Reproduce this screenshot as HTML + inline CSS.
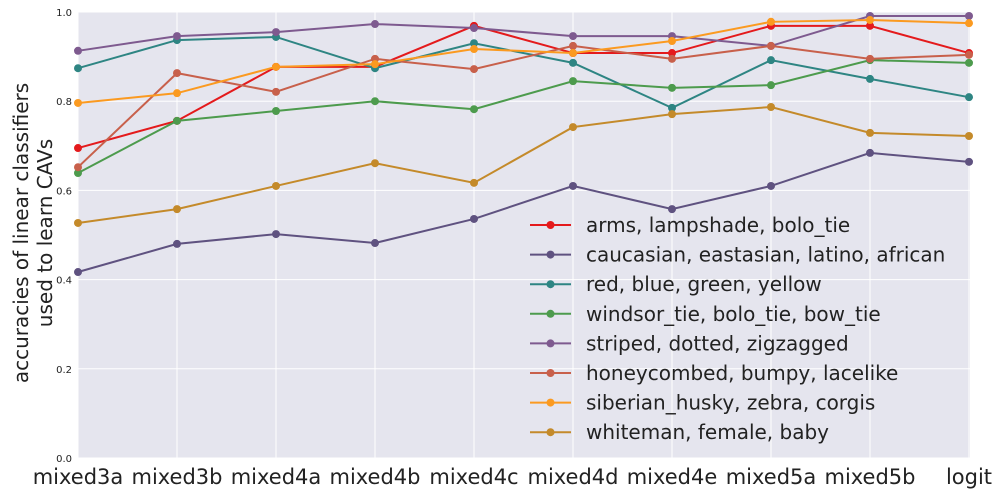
<!DOCTYPE html>
<html><head><meta charset="utf-8"><style>
body{margin:0;background:#fff;}
svg{display:block;font-family:"DejaVu Sans","Liberation Sans",sans-serif;}
</style></head><body>
<svg id="chart" width="999" height="492"></svg>
<script>
const categories=["mixed3a","mixed3b","mixed4a","mixed4b","mixed4c","mixed4d","mixed4e","mixed5a","mixed5b","logit"];
const yTicks=[0.0,0.2,0.4,0.6,0.8,1.0];
const seriesNames=["arms, lampshade, bolo_tie","caucasian, eastasian, latino, african","red, blue, green, yellow","windsor_tie, bolo_tie, bow_tie","striped, dotted, zigzagged","honeycombed, bumpy, lacelike","siberian_husky, zebra, corgis","whiteman, female, baby"];
const seriesColors=["#e41a1c","#5f5280","#2e8583","#4d9b4d","#7e5a8f","#c8604b","#fb9a20","#c48a2a"];
const sArms=[0.695,0.756,0.877,0.877,0.969,0.908,0.908,0.969,0.969,0.908];
const sRace=[0.417,0.480,0.502,0.482,0.536,0.610,0.558,0.610,0.684,0.664];
const sColor=[0.874,0.937,0.944,0.874,0.930,0.886,0.785,0.892,0.850,0.809];
const sTie=[0.639,0.756,0.778,0.800,0.782,0.845,0.830,0.836,0.892,0.886];
const sStripe=[0.913,0.946,0.955,0.973,0.964,0.946,0.946,0.924,0.991,0.991];
const sHoney=[0.652,0.863,0.821,0.895,0.872,0.924,0.895,0.924,0.895,0.904];
const sHusky=[0.796,0.818,0.877,0.883,0.917,0.908,0.935,0.978,0.982,0.975];
const sWhite=[0.527,0.558,0.610,0.661,0.617,0.742,0.771,0.787,0.729,0.722];
const allSeries=[sArms,sRace,sColor,sTie,sStripe,sHoney,sHusky,sWhite];

const NS="http://www.w3.org/2000/svg";
const svg=document.getElementById("chart");
const L=78,R=970,T=12,B=458;
const xs=i=>L+i*(R-L-1)/(categories.length-1);
const ys=v=>B-v*(B-T);
function mk(tag,attrs,parent){const e=document.createElementNS(NS,tag);for(const k in attrs)e.setAttribute(k,attrs[k]);(parent||svg).appendChild(e);return e;}

const bg=mk("rect",{x:L,y:T,width:R-L,height:B-T,fill:"#e5e5ee"});


yTicks.forEach(t=>{
  const g=mk("line",{x1:L,x2:R,y1:ys(t),y2:ys(t),stroke:"#fff","stroke-width":1});
  
  
  const tx=mk("text",{x:L-6,y:ys(t)+4,"text-anchor":"end","font-size":10,fill:"#222"});
  tx.textContent=t.toFixed(1);
  
  
});
categories.forEach((c,i)=>{
  const g=mk("line",{x1:xs(i),x2:xs(i),y1:T,y2:B,stroke:"#fff","stroke-width":1});
  
  
  const tx=mk("text",{x:xs(i),y:484,"text-anchor":"middle","font-size":21,fill:"#222"});
  tx.textContent=c;
  
  
});
const yt=mk("text",{transform:"translate(28,233) rotate(-90)","text-anchor":"middle","font-size":20,fill:"#222"});


const t1=mk("tspan",{x:0,dy:0},yt);t1.textContent="accuracies of linear classifiers";
const t2=mk("tspan",{x:0,dy:24},yt);t2.textContent="used to learn CAVs";

allSeries.forEach((s,k)=>{
  const pts=s.map((v,i)=>xs(i)+","+ys(v)).join(" ");
  const pl=mk("polyline",{points:pts,fill:"none",stroke:seriesColors[k],"stroke-width":2});
  
  
  s.forEach((v,i)=>{
    const c=mk("circle",{cx:xs(i),cy:ys(v),r:4,fill:seriesColors[k]});
    
    
  });
});

const lg=mk("g",{});


seriesNames.forEach((n,k)=>{
  const y=225+k*29.6;
  const ln=mk("line",{x1:530,x2:571,y1:y,y2:y,stroke:seriesColors[k],"stroke-width":2},lg);
  
  
  const c=mk("circle",{cx:550.5,cy:y,r:4,fill:seriesColors[k]},lg);
  
  
  const tx=mk("text",{x:586,y:y+7,"font-size":20,fill:"#222"},lg);
  tx.textContent=n;
  
  
});
</script>
</body></html>
